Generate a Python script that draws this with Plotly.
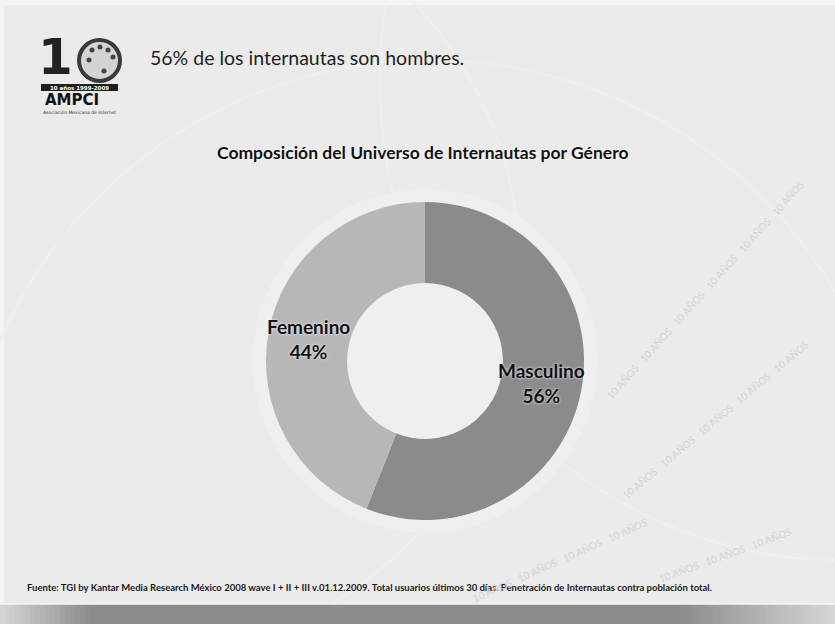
import math
import plotly.graph_objects as go

# Composición del universo de internautas por género
labels = ["Masculino", "Femenino"]
values = [56, 44]
colors = ["#8b8b8b", "#b7b7b7"]

headline = "56% de los internautas son hombres."
chart_title = "Composición del Universo de Internautas por Género"
source_note = ("Fuente: TGI by Kantar Media Research México 2008 wave I + II + III v.01.12.2009. "
               "Total usuarios últimos 30 días. Penetración de Internautas contra población total.")
watermark = "10 AÑOS"

W, H = 835, 624
FONT = "Lato"
HOLE = 0.49

def px(x):
    return x / W

def py(y):
    return 1 - y / H

# donut placement (pixels)
cx, cy, r = 425, 361, 159

fig = go.Figure()
fig.add_trace(go.Pie(
    labels=labels,
    values=values,
    hole=HOLE,
    sort=False,
    direction="clockwise",
    rotation=0,
    marker=dict(colors=colors, line=dict(width=0)),
    textinfo="none",
    domain=dict(x=[px(cx - r), px(cx + r)], y=[py(cy + r), py(cy - r)]),
    showlegend=False,
    hoverinfo="label+percent",
))

shapes = []
# slide frame: light top/left edge
shapes.append(dict(type="rect", xref="paper", yref="paper", x0=0, x1=1, y0=py(5), y1=1,
                   fillcolor="#f4f4f4", line=dict(width=0), layer="below"))
shapes.append(dict(type="rect", xref="paper", yref="paper", x0=0, x1=px(4), y0=0, y1=1,
                   fillcolor="#f4f4f4", line=dict(width=0), layer="below"))
# soft halo and faint swirl arcs of the slide background
shapes.append(dict(type="circle", xref="paper", yref="paper",
                   x0=px(cx - 172), x1=px(cx + 172), y0=py(cy + 172), y1=py(cy - 172),
                   fillcolor="#efefef", line=dict(width=0), layer="below"))
for (x0, y0, x1, y1) in [(-260, -120, 520, 660), (-40, 60, 900, 1000), (380, -400, 1300, 560)]:
    shapes.append(dict(type="circle", xref="paper", yref="paper",
                       x0=px(x0), x1=px(x1), y0=py(y1), y1=py(y0),
                       line=dict(color="#efefef", width=2), layer="below"))

# bottom shadow strip with a horizontal gradient
n = 167
for i in range(n):
    xc = (i + 0.5) / n * W
    if xc < 90:
        g = 215 - (215 - 140) * (xc / 90)
    elif xc > 680:
        g = 140 + (215 - 140) * ((xc - 680) / 155)
    else:
        g = 140
    g = int(g)
    shapes.append(dict(type="rect", xref="paper", yref="paper",
                       x0=i / n, x1=(i + 1) / n + 0.001, y0=0, y1=py(604),
                       fillcolor=f"rgb({g},{g},{g})", line=dict(width=0), layer="above"))
shapes.append(dict(type="line", xref="paper", yref="paper", x0=0, x1=1, y0=py(604), y1=py(604),
                   line=dict(color="#f6f6f6", width=1.5), layer="above"))

# logo: the "0" badge
shapes.append(dict(type="circle", xref="paper", yref="paper",
                   x0=px(79), x1=px(120), y0=py(81), y1=py(40),
                   fillcolor="#d4d4d4", line=dict(color="#3a3a3a", width=4)))
for (dx, dy) in [(92, 50), (100, 47), (108, 50), (113, 57), (89, 60), (104, 71)]:
    shapes.append(dict(type="circle", xref="paper", yref="paper",
                       x0=px(dx - 2.5), x1=px(dx + 2.5), y0=py(dy + 2.5), y1=py(dy - 2.5),
                       fillcolor="#444444", line=dict(width=0)))
shapes.append(dict(type="rect", xref="paper", yref="paper",
                   x0=px(41), x1=px(118), y0=py(91), y1=py(84),
                   fillcolor="#1e1e1e", line=dict(width=0)))

annotations = [
    dict(text=headline, x=px(148), y=py(57), xanchor="left", yanchor="middle",
         font=dict(family=FONT, size=19.5, color="#1e1e1e")),
    dict(text=f"<b>{chart_title}</b>", x=px(423), y=py(152), xanchor="center", yanchor="middle",
         font=dict(family=FONT, size=17.5, color="#111111", shadow="0px 0px 3px #ffffff")),
    dict(text=f"<b>{source_note}</b>", x=px(25), y=py(587), xanchor="left", yanchor="middle",
         font=dict(family=FONT, size=9.5, color="#1a1a1a")),
    # logo lettering
    dict(text="<b>1</b>", x=px(55), y=py(57), xanchor="center", yanchor="middle",
         font=dict(family="DejaVu Sans", size=50, color="#222222")),
    dict(text="<b>10 años 1999-2009</b>", x=px(79.5), y=py(87.5), xanchor="center",
         yanchor="middle", font=dict(family="DejaVu Sans", size=5.5, color="#ffffff")),
    dict(text="<b>AMPCI</b>", x=px(72), y=py(100), xanchor="center", yanchor="middle",
         font=dict(family="DejaVu Sans", size=15, color="#111111")),
    dict(text="Asociación Mexicana de Internet", x=px(79), y=py(112), xanchor="center",
         yanchor="middle", font=dict(family="DejaVu Sans", size=4.5, color="#333333")),
]

# slice labels, centred on each ring segment (angles derived from the values)
total = sum(values)
ring_mid = r * (1 + HOLE) / 2
start = 0.0
for lab, val in zip(labels, values):
    mid = start + val / total * 360 / 2
    start += val / total * 360
    a = math.radians(mid)
    lx = cx + ring_mid * math.sin(a)
    ly = cy - ring_mid * math.cos(a)
    annotations.append(dict(text=f"<b>{lab}<br>{val}%</b>", x=px(lx), y=py(ly),
                            xanchor="center", yanchor="middle",
                            font=dict(family=FONT, size=19, color="#111111",
                                      shadow="0px 0px 3px #ffffff")))

# diagonal watermark rows
for (x, y, ang, reps) in [(705, 290, -48, 6), (715, 420, -40, 5), (560, 560, -24, 4),
                          (725, 555, -20, 3)]:
    annotations.append(dict(text="   ".join([watermark] * reps), x=px(x), y=py(y),
                            xanchor="center", yanchor="middle", textangle=ang,
                            font=dict(family=FONT, size=10, color="#d4d4d4")))

for a in annotations:
    a.update(xref="paper", yref="paper", showarrow=False)

fig.update_layout(
    width=W, height=H,
    margin=dict(l=0, r=0, t=0, b=0),
    paper_bgcolor="#ebebeb",
    plot_bgcolor="#ebebeb",
    shapes=shapes,
    annotations=annotations,
)

fig.write_html("out.html")
